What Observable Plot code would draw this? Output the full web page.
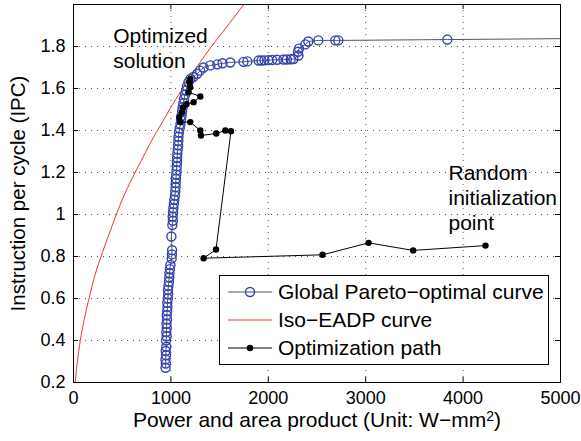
<!DOCTYPE html>
<html><head><meta charset="utf-8">
<script src="https://cdn.jsdelivr.net/npm/d3@7"></script>
<script src="https://cdn.jsdelivr.net/npm/@observablehq/plot@0.6"></script>
<style>
body{margin:0;background:#fff;}
#wrap{position:relative;width:581px;height:441px;font-family:"Liberation Sans",Arial,sans-serif;}
#legend{position:absolute;left:219px;top:275px;}
</style></head><body><div id="wrap"></div>
<script>
const xTicks = [0, 1000, 2000, 3000, 4000, 5000];
const xTickLabels = ["0", "1000", "2000", "3000", "4000", "5000"];
const yTicks = [0.2, 0.4, 0.6, 0.8, 1.0, 1.2, 1.4, 1.6, 1.8];
const yTickLabels = ["0.2", "0.4", "0.6", "0.8", "1", "1.2", "1.4", "1.6", "1.8"];
const xLabel = "Power and area product (Unit: W\u2212mm2)";
const yLabel = "Instruction per cycle (IPC)";
const optLabel = "Optimized\nsolution";
const randLabel = "Random\ninitialization\npoint";
const legendLabels = ["Global Pareto\u2212optimal curve", "Iso\u2212EADP curve", "Optimization path"];

// Iso-EADP curve
const isoPoints = [[0, 0.0], [5, 0.11], [18, 0.2], [40, 0.30], [70, 0.40], [110, 0.50], [154, 0.59], [220, 0.71], [298, 0.82],
  [400, 0.95], [500, 1.07], [600, 1.17], [700, 1.26], [800, 1.35], [900, 1.43], [1000, 1.51], [1100, 1.585], [1200, 1.655],
  [1300, 1.725], [1400, 1.79], [1500, 1.85], [1600, 1.91], [1750, 2.0], [1900, 2.08]];

// Global Pareto-optimal curve
const paretoPoints = [
  [945,0.27],[948,0.29],[944,0.31],[950,0.33],[947,0.35],[953,0.37],[950,0.40],[956,0.42],[952,0.44],[958,0.46],
  [955,0.48],[960,0.50],[957,0.52],[962,0.54],[965,0.56],[963,0.58],[968,0.60],[972,0.62],[970,0.64],[975,0.66],
  [980,0.68],[983,0.70],[985,0.72],[990,0.74],[995,0.76],[1008,0.79],[1010,0.81],[1012,0.83],[1005,0.895],[1015,0.95],
  [1020,0.97],[1018,0.99],[1022,1.01],[1025,1.03],[1030,1.05],[1035,1.07],[1042,1.09],[1045,1.11],[1048,1.13],[1050,1.15],
  [1052,1.17],[1055,1.19],[1058,1.21],[1060,1.23],[1062,1.25],[1064,1.27],[1066,1.29],[1070,1.31],[1074,1.33],[1076,1.35],
  [1078,1.37],[1082,1.39],[1090,1.41],[1098,1.43],[1104,1.45],[1110,1.47],[1115,1.49],[1120,1.51],[1128,1.53],[1135,1.55],
  [1145,1.57],[1155,1.59],[1165,1.61],[1180,1.63],[1200,1.645],[1230,1.655],[1270,1.67],[1300,1.685],[1335,1.70],[1405,1.71],
  [1476,1.715],[1530,1.72],[1610,1.724],[1745,1.727],[1785,1.729],[1900,1.733],[1930,1.733],[1960,1.734],[2000,1.735],[2040,1.736],
  [2090,1.737],[2155,1.738],[2190,1.738],[2230,1.739],[2258,1.740],[2310,1.757],[2305,1.775],[2315,1.79],[2380,1.81],[2411,1.824],
  [2514,1.829],[2688,1.829],[2719,1.829],[3838,1.833],[5200,1.838]
];

// Optimization path (from random initialization point to optimized solution)
const pathPoints = [
  [4230,0.852],[3487,0.829],[3030,0.865],[2557,0.808],[1336,0.792],[1463,0.833],[1617,1.397],[1559,1.400],[1466,1.386],[1309,1.376],
  [1302,1.400],[1199,1.440],[1096,1.44],[1086,1.463],[1113,1.487],[1124,1.51],[1160,1.525],[1233,1.535],[1302,1.562],[1182,1.582],
  [1199,1.606],[1190,1.63],[1199,1.646]
];

const FONT = "Liberation Sans, Arial, Helvetica, sans-serif";
const plot = Plot.plot({
  width: 581, height: 441,
  marginLeft: 73, marginRight: 21, marginTop: 4, marginBottom: 59,
  style: {fontFamily: FONT, fontSize: "18px", color: "#000", background: "#fff"},
  x: {domain: [0, 5000]},
  y: {domain: [0.2, 2.0]},
  marks: [
    Plot.ruleX(xTicks, {stroke: "#555", strokeDasharray: "1,5"}),
    Plot.ruleY(yTicks, {stroke: "#555", strokeDasharray: "1,5"}),
    Plot.line(isoPoints, {x: d => d[0], y: d => d[1], stroke: "#e6372a", strokeWidth: 1, curve: "monotone-x", clip: true}),
    Plot.line(paretoPoints, {x: d => d[0], y: d => d[1], stroke: "#555", strokeWidth: 1, clip: true}),
    Plot.dot(paretoPoints, {x: d => d[0], y: d => d[1], r: 4.5, stroke: "#3344b0", strokeWidth: 1.4, fill: "none", clip: true}),
    Plot.line(pathPoints, {x: d => d[0], y: d => d[1], stroke: "#000", strokeWidth: 1}),
    Plot.dot(pathPoints, {x: d => d[0], y: d => d[1], r: 3.2, fill: "#000", stroke: "none"}),
    Plot.ruleX(xTicks, {insetTop: 373, stroke: "#000"}),
    Plot.ruleX(xTicks, {insetBottom: 373, stroke: "#000"}),
    Plot.ruleY(yTicks, {insetRight: 482, stroke: "#000"}),
    Plot.ruleY(yTicks, {insetLeft: 482, stroke: "#000"}),
    Plot.frame({stroke: "#000"}),
    Plot.axisX({ticks: xTicks, tickSize: 0, tickPadding: 9, fontSize: 18, label: null,
      tickFormat: d => xTickLabels[xTicks.indexOf(d)]}),
    Plot.axisY({ticks: yTicks, tickSize: 0, tickPadding: 8, fontSize: 18, label: null,
      tickFormat: d => yTickLabels[yTicks.findIndex(t => Math.abs(t - d) < 1e-9)]}),
    Plot.text([yLabel], {frameAnchor: "left", dx: -55, rotate: -90, textAnchor: "middle", fontSize: 20.5}),
    Plot.text([xLabel], {frameAnchor: "bottom", dy: 44, textAnchor: "middle", fontSize: 21}),
    Plot.text([optLabel], {x: 408, y: 1.9, textAnchor: "start", lineAnchor: "top", fontSize: 21, lineHeight: 1.19}),
    Plot.text([randLabel], {x: 3850, y: 1.248, textAnchor: "start", lineAnchor: "top", fontSize: 21, lineHeight: 1.19})
  ]
});
const wrap = document.getElementById("wrap");
wrap.appendChild(plot);

// superscript on x label
d3.select(plot).selectAll("text").each(function() {
  const t = this.textContent;
  if (t === xLabel) {
    const el = d3.select(this);
    el.text("Power and area product (Unit: W\u2212mm");
    el.append("tspan").attr("dy", -6).attr("font-size", 14).text("2");
    el.append("tspan").attr("dy", 6).text(")");
  }
});

// legend
const lg = d3.select(wrap).append("svg").attr("id", "legend")
  .attr("width", 331).attr("height", 91)
  .style("font-family", FONT);
lg.append("rect").attr("x", 0.5).attr("y", 0.5).attr("width", 329).attr("height", 89)
  .attr("fill", "#fff").attr("stroke", "#000");
const rows = [17, 45, 73];
// Pareto
lg.append("line").attr("x1", 9).attr("x2", 53).attr("y1", rows[0]).attr("y2", rows[0]).attr("stroke", "#555");
lg.append("circle").attr("cx", 31).attr("cy", rows[0]).attr("r", 4.5).attr("fill", "none").attr("stroke", "#3344b0").attr("stroke-width", 1.4);
// Iso
lg.append("line").attr("x1", 9).attr("x2", 53).attr("y1", rows[1]).attr("y2", rows[1]).attr("stroke", "#e6372a");
// Path
lg.append("line").attr("x1", 9).attr("x2", 53).attr("y1", rows[2]).attr("y2", rows[2]).attr("stroke", "#000");
lg.append("circle").attr("cx", 31).attr("cy", rows[2]).attr("r", 3.2).attr("fill", "#000");
legendLabels.forEach((s, i) => {
  lg.append("text").attr("x", 59).attr("y", rows[i]).attr("dy", "0.35em")
    .attr("font-size", 21).attr("fill", "#000").text(s);
});
</script></body></html>
